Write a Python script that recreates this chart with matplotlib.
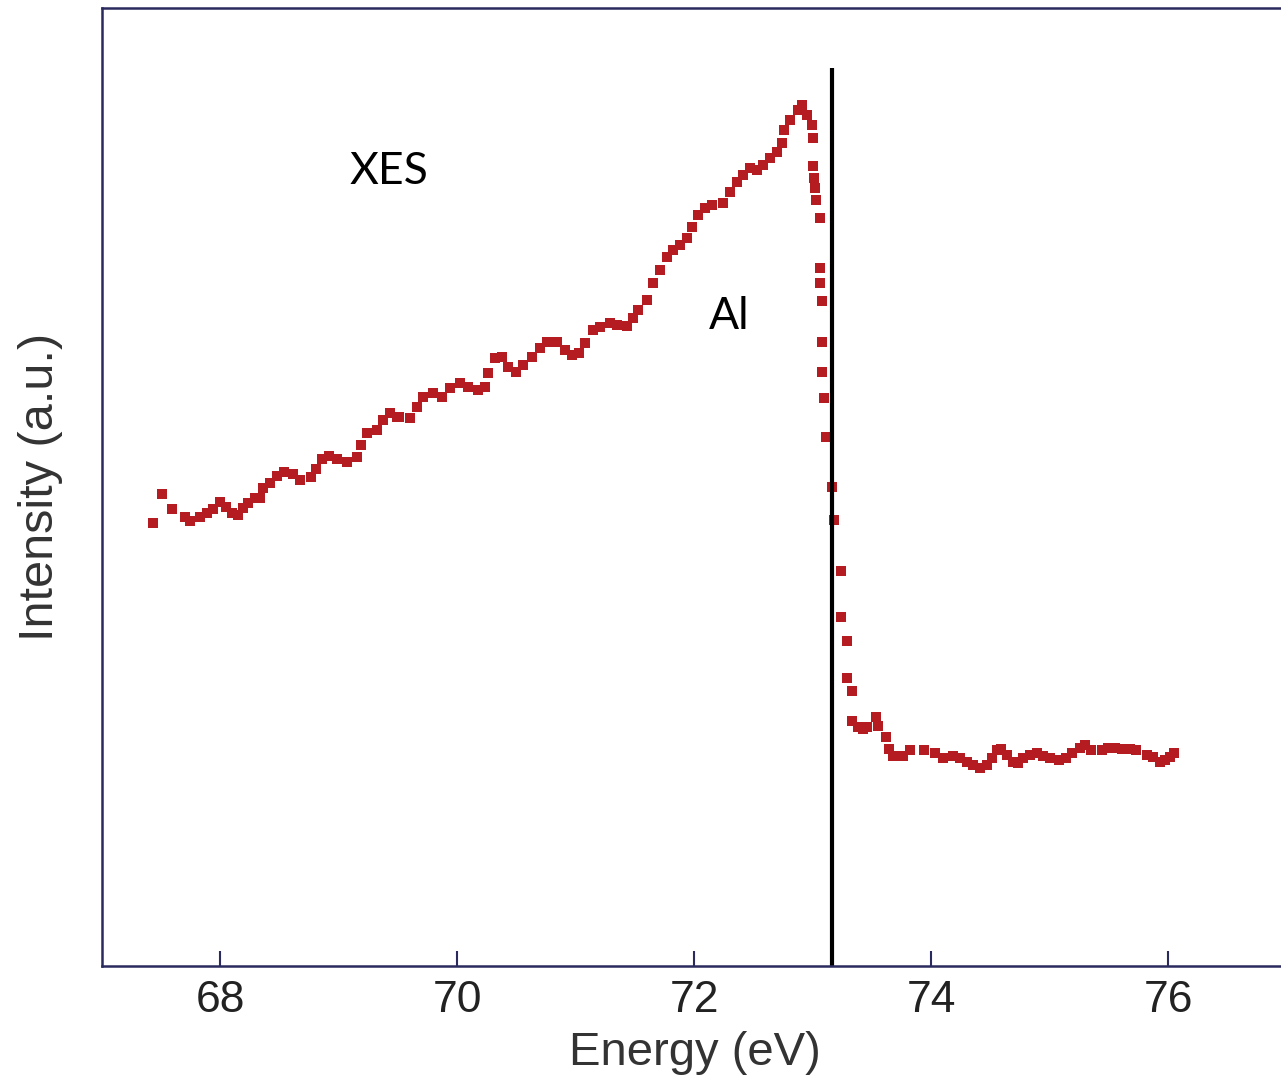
import matplotlib
import matplotlib.pyplot as plt

matplotlib.use("Agg")

# XES spectrum (energy in eV, intensity in a.u.)
energy = [
    67.43, 67.51, 67.59, 67.70, 67.74, 67.83, 67.89, 67.94, 68.00, 68.05,
    68.10, 68.15, 68.19, 68.23, 68.29, 68.33, 68.36, 68.42, 68.48, 68.54,
    68.61, 68.67, 68.76, 68.81, 68.86, 68.92, 68.98, 69.07, 69.15, 69.19,
    69.24, 69.32, 69.37, 69.43, 69.49, 69.51, 69.60, 69.66, 69.71, 69.79,
    69.87, 69.94, 70.02, 70.09, 70.17, 70.23, 70.26, 70.32, 70.38, 70.43,
    70.49, 70.55, 70.63, 70.70, 70.76, 70.84, 70.91, 70.97, 71.03, 71.08,
    71.14, 71.20, 71.29, 71.35, 71.43, 71.48, 71.52, 71.60, 71.65, 71.71,
    71.77, 71.82, 71.88, 71.94, 71.98, 72.03, 72.09, 72.15, 72.24, 72.30,
    72.36, 72.41, 72.47, 72.53, 72.58, 72.64, 72.70, 72.74, 72.76, 72.81,
    72.87, 72.91, 72.95, 72.99, 73.00, 73.00, 73.01, 73.02, 73.03, 73.06,
    73.06, 73.06, 73.08, 73.08, 73.08, 73.09, 73.11, 73.16, 73.18, 73.24,
    73.24, 73.29, 73.29, 73.33, 73.33, 73.38, 73.42, 73.46, 73.53, 73.55,
    73.62, 73.64, 73.68, 73.76, 73.82, 73.94, 74.03, 74.10, 74.18, 74.24,
    74.30, 74.35, 74.41, 74.47, 74.51, 74.55, 74.59, 74.64, 74.69, 74.73,
    74.77, 74.83, 74.89, 74.94, 75.00, 75.08, 75.14, 75.19, 75.25, 75.30,
    75.35, 75.44, 75.49, 75.55, 75.61, 75.68, 75.73, 75.82, 75.87, 75.93,
    75.97, 76.01, 76.05,
]
intensity = [
    46.2, 49.3, 47.7, 46.9, 46.5, 46.9, 47.3, 47.7, 48.4, 47.9,
    47.3, 47.1, 47.8, 48.3, 48.9, 48.9, 49.9, 50.4, 51.1, 51.6,
    51.4, 50.7, 51.0, 51.9, 52.9, 53.2, 52.9, 52.6, 53.1, 54.4,
    55.6, 56.0, 57.0, 57.7, 57.3, 57.3, 57.2, 58.4, 59.4, 59.8,
    59.4, 60.3, 60.9, 60.4, 60.1, 60.4, 61.9, 63.5, 63.6, 62.5,
    62.0, 62.7, 63.6, 64.5, 65.1, 65.1, 64.3, 63.8, 64.0, 65.0,
    66.4, 66.7, 67.1, 66.9, 66.8, 67.6, 68.5, 69.5, 71.3, 72.7,
    74.0, 74.7, 75.3, 76.0, 77.1, 78.4, 79.1, 79.4, 79.6, 80.8,
    81.8, 82.6, 83.3, 83.1, 83.6, 84.3, 85.0, 85.9, 87.3, 88.3,
    89.4, 89.9, 88.8, 87.8, 86.4, 83.5, 82.3, 81.2, 80.0, 78.1,
    72.9, 71.3, 69.4, 65.1, 62.0, 59.3, 55.2, 50.0, 46.6, 41.2,
    36.4, 33.9, 30.1, 28.7, 25.6, 24.9, 24.7, 24.9, 26.0, 25.1,
    23.9, 22.7, 21.9, 21.9, 22.5, 22.5, 22.2, 21.7, 21.9, 21.7,
    21.3, 21.0, 20.7, 21.0, 21.7, 22.5, 22.7, 22.0, 21.3, 21.2,
    21.7, 22.0, 22.2, 21.9, 21.7, 21.5, 21.7, 22.2, 22.8, 23.1,
    22.5, 22.5, 22.8, 22.8, 22.7, 22.7, 22.5, 22.0, 21.8, 21.3,
    21.5, 21.8, 22.2,
]

edge_energy = 73.16
edge_top = 93.7
xticks = [68, 70, 72, 74, 76]

fig = plt.figure(figsize=(12.81, 10.83), dpi=100)
ax = fig.add_axes([0.0796, 0.108, 0.925, 0.8846])

ax.plot(energy, intensity, linestyle="none", marker="s", markersize=7.2,
        color="#b41c22", markeredgewidth=0)
ax.vlines(edge_energy, 0, edge_top, color="black", linewidth=3)

ax.text(69.42, 82.9, "XES", fontsize=32, family="Lato", ha="center", va="center")
ax.text(72.29, 67.8, "Al", fontsize=32, family="Lato", ha="center", va="center")

ax.set_xlim(67, 77)
ax.set_ylim(0, 100)
ax.set_xticks(xticks)
ax.set_yticks([])
ax.tick_params(axis="x", direction="in", length=11, width=1.5, color="#2b2a5e",
               labelsize=32, labelcolor="#222222", pad=10)
for lbl in ax.get_xticklabels():
    lbl.set_family("Liberation Sans")

for sp in ax.spines.values():
    sp.set_color("#2b2a5e")
    sp.set_linewidth(1.8)

ax.set_xlabel("Energy (eV)", fontsize=34, family="Liberation Sans", color="#333333", labelpad=7)
ax.set_ylabel("Intensity (a.u.)", fontsize=35, family="Liberation Sans", color="#333333", labelpad=28)

fig.savefig("out.png", dpi=100)
